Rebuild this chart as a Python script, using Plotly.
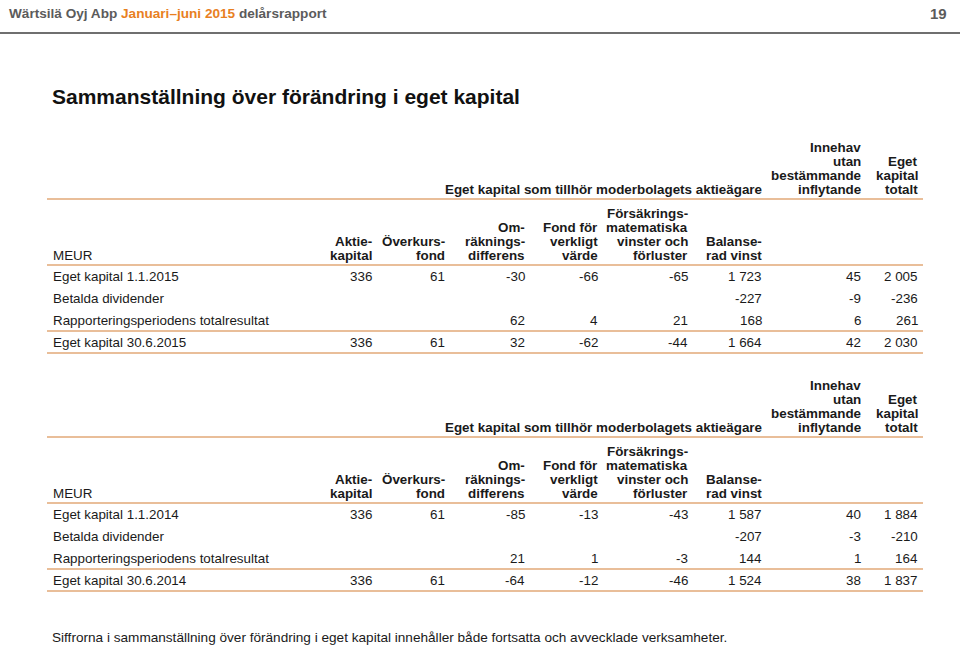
import plotly.graph_objects as go

# ---------------- data ----------------
col_headers = [
    ["Aktie-", "kapital"],
    ["Överkurs-", "fond"],
    ["Om-", "räknings-", "differens"],
    ["Fond för", "verkligt", "värde"],
    ["Försäkrings-", "matematiska", "vinster och", "förluster"],
    ["Balanse-", "rad vinst"],
    ["Innehav", "utan", "bestämmande", "inflytande"],
    ["Eget", "kapital", "totalt"],
]
group_header = "Eget kapital som tillhör moderbolagets aktieägare"
unit_label = "MEUR"

rows_2015 = ["Eget kapital 1.1.2015", "Betalda dividender",
             "Rapporteringsperiodens totalresultat", "Eget kapital 30.6.2015"]
aktiekapital_2015 = [336, None, None, 336]
overkursfond_2015 = [61, None, None, 61]
omrakning_2015 = [-30, None, 62, 32]
verkligt_2015 = [-66, None, 4, -62]
forsakring_2015 = [-65, None, 21, -44]
balanserad_2015 = [1723, -227, 168, 1664]
innehav_2015 = [45, -9, 6, 42]
totalt_2015 = [2005, -236, 261, 2030]

rows_2014 = ["Eget kapital 1.1.2014", "Betalda dividender",
             "Rapporteringsperiodens totalresultat", "Eget kapital 30.6.2014"]
aktiekapital_2014 = [336, None, None, 336]
overkursfond_2014 = [61, None, None, 61]
omrakning_2014 = [-85, None, 21, -64]
verkligt_2014 = [-13, None, 1, -12]
forsakring_2014 = [-43, None, -3, -46]
balanserad_2014 = [1587, -207, 144, 1524]
innehav_2014 = [40, -3, 1, 38]
totalt_2014 = [1884, -210, 164, 1837]

page_header = "Wärtsilä Oyj Abp"
page_period = "Januari–juni 2015"
page_doc = "delårsrapport"
page_number = "19"
title = "Sammanställning över förändring i eget kapital"
footnote = ("Siffrorna i sammanställning över förändring i eget kapital "
            "innehåller både fortsatta och avvecklade verksamheter.")

# ---------------- layout / style ----------------
W, H = 960, 646
BODY = "Liberation Sans, Arial, Helvetica, sans-serif"
TXT = "#1a1a1a"
GREY = "#5b5b5b"
ORANGE = "#e8801f"
RULE = "#e2a877"
FS = 13.4

col_right = [374, 447, 527, 600, 690, 764, 863, 920]
left_x = 51
table_left, table_right = 47, 923
line_h = 14

annotations = []
shapes = []


def txt(x, y, s, anchor="left", size=FS, bold=False, color=TXT, family=BODY):
    annotations.append(dict(
        x=x, y=y, xref="x", yref="y", text=("<b>%s</b>" % s) if bold else s,
        showarrow=False, xanchor=anchor, yanchor="middle",
        font=dict(family=family, size=size, color=color)))


def hline(x0, x1, y, color=RULE, width=1.5):
    shapes.append(dict(type="line", xref="x", yref="y", x0=x0, x1=x1, y0=y, y1=y,
                       line=dict(color=color, width=width)))


def fmt(v):
    if v is None:
        return ""
    s = "{:,}".format(abs(v)).replace(",", " ")
    return ("-" if v < 0 else "") + s


def table(off, labels, cols):
    base_top = 189 + off
    for ci in (6, 7):
        lines = col_headers[ci]
        for k, ln in enumerate(lines):
            y = base_top - (len(lines) - 1 - k) * line_h
            txt(col_right[ci], y, ln, anchor="right", bold=True)
    txt(col_right[5], base_top, group_header, anchor="right", bold=True)
    hline(table_left, table_right, 199 + off)
    base = 255 + off
    for ci in range(6):
        lines = col_headers[ci]
        for k, ln in enumerate(lines):
            y = base - (len(lines) - 1 - k) * line_h
            txt(col_right[ci], y, ln, anchor="right", bold=True)
    txt(left_x, base, unit_label)
    hline(table_left, table_right, 265 + off)
    row_y = [276, 298, 320, 342]
    for r, lab in enumerate(labels):
        y = row_y[r] + off
        txt(left_x, y, lab)
        for ci, col in enumerate(cols):
            txt(col_right[ci], y, fmt(col[r]), anchor="right")
    hline(table_left, table_right, 331 + off)
    hline(table_left, table_right, 353 + off)


table(0, rows_2015, [aktiekapital_2015, overkursfond_2015, omrakning_2015, verkligt_2015,
                     forsakring_2015, balanserad_2015, innehav_2015, totalt_2015])
table(238, rows_2014, [aktiekapital_2014, overkursfond_2014, omrakning_2014, verkligt_2014,
                       forsakring_2014, balanserad_2014, innehav_2014, totalt_2014])

# page header
annotations.append(dict(
    x=7, y=13, xref="x", yref="y", showarrow=False, xanchor="left", yanchor="middle",
    text="<b>%s <span style='color:%s'>%s</span> %s</b>" % (page_header, ORANGE, page_period, page_doc),
    font=dict(family=BODY, size=13.6, color=GREY)))
txt(949, 13, page_number, anchor="right", size=15, bold=True, color=GREY)
hline(0, W, 33, color="#6f6f6f", width=2)

# title
txt(50, 96, title, size=21, bold=True, color="#111111")

# footnote
txt(50, 637, footnote, size=13.6, color=TXT)

fig = go.Figure()
fig.add_trace(go.Scatter(x=[0, W], y=[0, H], mode="markers",
                         marker=dict(opacity=0), hoverinfo="skip", showlegend=False))
fig.update_layout(
    width=W, height=H, margin=dict(l=0, r=0, t=0, b=0),
    paper_bgcolor="white", plot_bgcolor="white",
    xaxis=dict(range=[0, W], visible=False, fixedrange=True),
    yaxis=dict(range=[H, 0], visible=False, fixedrange=True),
    annotations=annotations, shapes=shapes, showlegend=False,
)
fig.write_html("out.html", config={"displayModeBar": False},
               post_script="document.body.style.margin='0';")
